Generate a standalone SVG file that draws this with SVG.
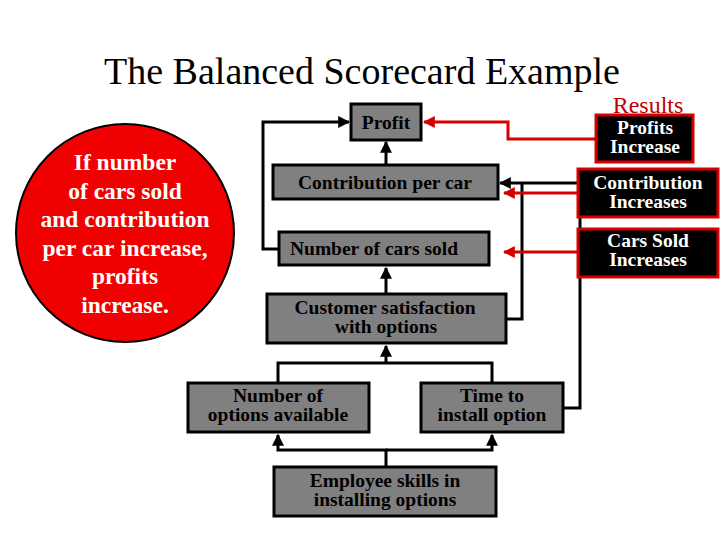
<svg xmlns="http://www.w3.org/2000/svg" width="720" height="540" viewBox="0 0 720 540">
<style>
.box{fill:#808080;stroke:#000;stroke-width:3}
.res{fill:#000;stroke:#d40000;stroke-width:3}
.t{font-family:"Liberation Serif","Times New Roman",serif;font-weight:bold;font-size:19.5px;text-anchor:middle;fill:#000}
.w{fill:#fff}
.c{font-size:23.5px}
.ln{fill:none;stroke:#000;stroke-width:3}
.rl{fill:none;stroke:#d40000;stroke-width:3}
</style>
<defs>
<marker id="ab" viewBox="0 0 10 10" refX="9" refY="5" markerWidth="4" markerHeight="4" orient="auto" markerUnits="strokeWidth"><path d="M0,0L10,5L0,10z" fill="#000"/></marker>
<marker id="ar" viewBox="0 0 10 10" refX="9" refY="5" markerWidth="4" markerHeight="4" orient="auto" markerUnits="strokeWidth"><path d="M0,0L10,5L0,10z" fill="#d40000"/></marker>
</defs>
<rect width="720" height="540" fill="#fff"/>
<text x="362" y="84" font-family="Liberation Serif,serif" font-size="38" text-anchor="middle">The Balanced Scorecard Example</text>
<text x="648" y="113" font-family="Liberation Serif,serif" font-size="24" text-anchor="middle" fill="#c00000">Results</text>
<g id="connectors">
<path class="ln" d="M580,183V408H563" />
<path class="ln" d="M522,183V319H506" />
<path class="ln" d="M580,183H500" marker-end="url(#ab)"/>
<path class="ln" d="M279,249H263V122H349" marker-end="url(#ab)"/>
<path class="ln" d="M386,165V142" marker-end="url(#ab)"/>
<path class="ln" d="M386,294V268" marker-end="url(#ab)"/>
<path class="ln" d="M278,383V363H492V383M386,363V346" marker-end="url(#ab)"/>
<path class="ln" d="M386,467V450H278V435" marker-end="url(#ab)"/>
<path class="ln" d="M386,450H492V435" marker-end="url(#ab)"/>
<path class="rl" d="M597,139H508V122H424" marker-end="url(#ar)"/>
<path class="rl" d="M578,193H504" marker-end="url(#ar)"/>
<path class="rl" d="M578,252H504" marker-end="url(#ar)"/>
</g>
<g id="circle">
<circle cx="125" cy="233" r="109" fill="#f00000" stroke="#000" stroke-width="2"/>
<text class="t w c"><tspan x="125" y="170">If number</tspan><tspan x="125" y="199">of cars sold</tspan><tspan x="125" y="227">and contribution</tspan><tspan x="125" y="256">per car increase,</tspan><tspan x="125" y="284">profits</tspan><tspan x="125" y="313">increase.</tspan></text>
</g>
<g id="profit"><rect class="box" x="351" y="104" width="70" height="36"/><text class="t" x="386" y="129">Profit</text></g>
<g id="contribution"><rect class="box" x="273" y="165" width="225" height="34"/><text class="t" x="385" y="189">Contribution per car</text></g>
<g id="cars-sold"><rect class="box" x="279" y="232" width="210" height="33"/><text class="t" x="374" y="255">Number of cars sold</text></g>
<g id="customer"><rect class="box" x="267" y="294" width="239" height="49"/><text class="t"><tspan x="385" y="314">Customer satisfaction</tspan><tspan x="386" y="333">with options</tspan></text></g>
<g id="options"><rect class="box" x="188" y="383" width="181" height="49"/><text class="t"><tspan x="278" y="402">Number of</tspan><tspan x="278" y="421">options available</tspan></text></g>
<g id="time"><rect class="box" x="421" y="383" width="142" height="49"/><text class="t"><tspan x="492" y="402">Time to</tspan><tspan x="492" y="421">install option</tspan></text></g>
<g id="employee"><rect class="box" x="274" y="467" width="222" height="49"/><text class="t"><tspan x="385" y="487">Employee skills in</tspan><tspan x="385" y="506">installing options</tspan></text></g>
<g id="profits-increase"><rect class="res" x="596" y="115" width="97" height="47"/><text class="t w"><tspan x="645" y="134">Profits</tspan><tspan x="645" y="153">Increase</tspan></text></g>
<g id="contribution-increases"><rect class="res" x="578" y="169" width="140" height="48"/><text class="t w"><tspan x="648" y="189">Contribution</tspan><tspan x="648" y="208">Increases</tspan></text></g>
<g id="cars-sold-increases"><rect class="res" x="578" y="229" width="140" height="48"/><text class="t w"><tspan x="648" y="247">Cars Sold</tspan><tspan x="648" y="266">Increases</tspan></text></g>
</svg>
